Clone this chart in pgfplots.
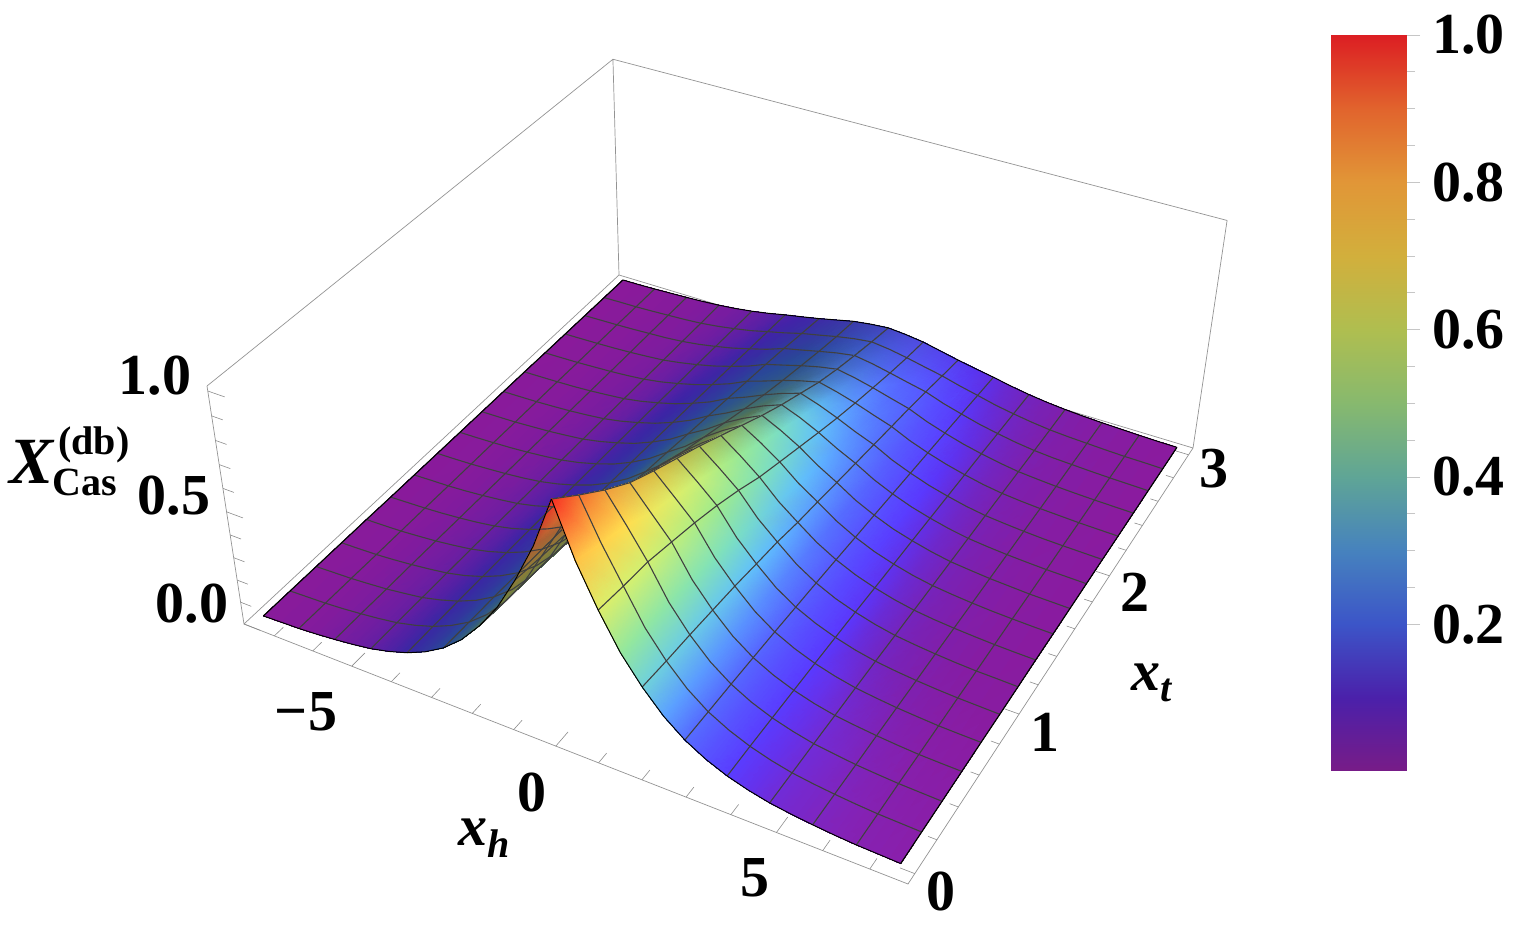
\documentclass[border=0pt]{standalone}
\usepackage{pgfplots}
\pgfplotsset{compat=1.18}
\usepackage{pgfplotstable}
\usepackage{fontspec}
\setmainfont{Liberation Serif}
% projection of (x_h, x_t, X) on the page
\newcommand\U[1]{((#1+7.8)/15.6)}
\newcommand\V[1]{((#1+0.06)/3.12)}
\newcommand\W[1]{(#1/1.02)}
\newcommand\DN[3]{(1-0.11472*\U{#1}+0.21376*\V{#2}-0.073*\W{#3})}
\newcommand\PX[3]{((244+559.83*\U{#1}+507.32*\V{#2}-52.11*\W{#3})/\DN{#1}{#2}{#3})}
\newcommand\PY[3]{(927-(624+158.59*\U{#1}-290.22*\V{#2}-266.18*\W{#3})/\DN{#1}{#2}{#3})}
\newcommand\HH{\thisrow{h}}\newcommand\TT{\thisrow{t}}\newcommand\ZZ{\thisrow{z}}
% heights X read from the surface: one line for each x_h (step 0.46875), x_t from 3 down to 0 (step 0.1875)
% x_h from -7.5 to 0
\pgfplotstableread[row sep=\\]{z\\
0.018\\0.018\\0.018\\0.018\\0.018\\0.019\\0.019\\0.019\\0.019\\0.019\\0.019\\0.019\\0.02\\0.02\\0.02\\0.02\\0.02\\
0.019\\0.02\\0.02\\0.02\\0.02\\0.021\\0.021\\0.021\\0.021\\0.021\\0.022\\0.022\\0.022\\0.022\\0.023\\0.023\\0.023\\
0.021\\0.021\\0.022\\0.022\\0.022\\0.023\\0.023\\0.023\\0.024\\0.024\\0.024\\0.025\\0.025\\0.025\\0.026\\0.026\\0.026\\
0.024\\0.024\\0.025\\0.025\\0.026\\0.026\\0.027\\0.028\\0.028\\0.029\\0.029\\0.03\\0.031\\0.031\\0.032\\0.032\\0.032\\
0.027\\0.028\\0.029\\0.029\\0.03\\0.031\\0.032\\0.033\\0.034\\0.035\\0.036\\0.037\\0.038\\0.039\\0.039\\0.04\\0.04\\
0.031\\0.032\\0.033\\0.035\\0.036\\0.038\\0.039\\0.041\\0.042\\0.043\\0.045\\0.046\\0.048\\0.049\\0.05\\0.05\\0.05\\
0.037\\0.038\\0.04\\0.042\\0.044\\0.046\\0.048\\0.05\\0.052\\0.054\\0.056\\0.058\\0.06\\0.061\\0.062\\0.063\\0.063\\
0.045\\0.048\\0.051\\0.055\\0.057\\0.06\\0.063\\0.066\\0.068\\0.071\\0.074\\0.076\\0.079\\0.08\\0.082\\0.083\\0.083\\
0.056\\0.061\\0.066\\0.071\\0.075\\0.079\\0.083\\0.087\\0.09\\0.094\\0.098\\0.101\\0.104\\0.106\\0.108\\0.11\\0.11\\
0.07\\0.076\\0.083\\0.09\\0.096\\0.101\\0.107\\0.112\\0.117\\0.123\\0.128\\0.133\\0.137\\0.14\\0.143\\0.146\\0.147\\
0.087\\0.096\\0.105\\0.114\\0.122\\0.13\\0.138\\0.146\\0.153\\0.161\\0.168\\0.174\\0.18\\0.185\\0.19\\0.193\\0.197\\
0.102\\0.115\\0.128\\0.141\\0.152\\0.163\\0.175\\0.186\\0.198\\0.209\\0.221\\0.23\\0.24\\0.247\\0.254\\0.259\\0.266\\
0.118\\0.137\\0.157\\0.175\\0.19\\0.206\\0.222\\0.238\\0.255\\0.27\\0.291\\0.305\\0.32\\0.33\\0.34\\0.347\\0.358\\
0.136\\0.154\\0.175\\0.197\\0.217\\0.238\\0.262\\0.286\\0.31\\0.334\\0.365\\0.39\\0.413\\0.43\\0.447\\0.456\\0.47\\
0.154\\0.172\\0.194\\0.22\\0.246\\0.275\\0.308\\0.343\\0.378\\0.414\\0.46\\0.5\\0.533\\0.561\\0.588\\0.6\\0.616\\
0.165\\0.187\\0.212\\0.24\\0.27\\0.308\\0.348\\0.39\\0.435\\0.48\\0.53\\0.575\\0.615\\0.655\\0.71\\0.745\\0.785\\
0.172\\0.197\\0.225\\0.255\\0.29\\0.335\\0.38\\0.43\\0.485\\0.54\\0.595\\0.645\\0.695\\0.75\\0.825\\0.91\\1\\
}\surfleft
% x_h from 0 to 7.5
\pgfplotstableread[row sep=\\]{z\\
0.172\\0.197\\0.225\\0.255\\0.29\\0.335\\0.38\\0.43\\0.485\\0.54\\0.595\\0.645\\0.695\\0.75\\0.825\\0.91\\1\\
0.165\\0.187\\0.212\\0.24\\0.27\\0.308\\0.348\\0.39\\0.435\\0.48\\0.53\\0.575\\0.615\\0.655\\0.71\\0.745\\0.785\\
0.154\\0.172\\0.194\\0.22\\0.246\\0.275\\0.308\\0.343\\0.378\\0.414\\0.46\\0.5\\0.533\\0.561\\0.588\\0.6\\0.616\\
0.136\\0.154\\0.175\\0.197\\0.217\\0.238\\0.262\\0.286\\0.31\\0.334\\0.365\\0.39\\0.413\\0.43\\0.447\\0.456\\0.47\\
0.118\\0.137\\0.157\\0.175\\0.19\\0.206\\0.222\\0.238\\0.255\\0.27\\0.291\\0.305\\0.32\\0.33\\0.34\\0.347\\0.358\\
0.102\\0.115\\0.128\\0.141\\0.152\\0.163\\0.175\\0.186\\0.198\\0.209\\0.221\\0.23\\0.24\\0.247\\0.254\\0.259\\0.266\\
0.087\\0.096\\0.105\\0.114\\0.122\\0.13\\0.138\\0.146\\0.153\\0.161\\0.168\\0.174\\0.18\\0.185\\0.19\\0.193\\0.197\\
0.07\\0.076\\0.083\\0.09\\0.096\\0.101\\0.107\\0.112\\0.117\\0.123\\0.128\\0.133\\0.137\\0.14\\0.143\\0.146\\0.147\\
0.056\\0.061\\0.066\\0.071\\0.075\\0.079\\0.083\\0.087\\0.09\\0.094\\0.098\\0.101\\0.104\\0.106\\0.108\\0.11\\0.11\\
0.045\\0.048\\0.051\\0.055\\0.057\\0.06\\0.063\\0.066\\0.068\\0.071\\0.074\\0.076\\0.079\\0.08\\0.082\\0.083\\0.083\\
0.037\\0.038\\0.04\\0.042\\0.044\\0.046\\0.048\\0.05\\0.052\\0.054\\0.056\\0.058\\0.06\\0.061\\0.062\\0.063\\0.063\\
0.031\\0.032\\0.033\\0.035\\0.036\\0.038\\0.039\\0.041\\0.042\\0.043\\0.045\\0.046\\0.048\\0.049\\0.05\\0.05\\0.05\\
0.027\\0.028\\0.029\\0.029\\0.03\\0.031\\0.032\\0.033\\0.034\\0.035\\0.036\\0.037\\0.038\\0.039\\0.039\\0.04\\0.04\\
0.024\\0.024\\0.025\\0.025\\0.026\\0.026\\0.027\\0.028\\0.028\\0.029\\0.029\\0.03\\0.031\\0.031\\0.032\\0.032\\0.032\\
0.021\\0.021\\0.022\\0.022\\0.022\\0.023\\0.023\\0.023\\0.024\\0.024\\0.024\\0.025\\0.025\\0.025\\0.026\\0.026\\0.026\\
0.019\\0.02\\0.02\\0.02\\0.02\\0.021\\0.021\\0.021\\0.021\\0.021\\0.022\\0.022\\0.022\\0.022\\0.023\\0.023\\0.023\\
0.018\\0.018\\0.018\\0.018\\0.018\\0.019\\0.019\\0.019\\0.019\\0.019\\0.019\\0.019\\0.02\\0.02\\0.02\\0.02\\0.02\\
}\surfright
% shaded colour of each vertex: colour of its height, lit according to the side of the ridge it is on
\newcommand\lookup[2]{\pgfmathparse{{#1}[\vi]+({#1}[\vi+1]-{#1}[\vi])*\vf}\let#2\pgfmathresult}
\newcommand\vertexcolor[3]{%
  \getthisrow{h}\vh\getthisrow{t}\vt\getthisrow{z}\vz
  \pgfmathsetmacro\vq{10*\vz}\pgfmathtruncatemacro\vi{\vq}\pgfmathsetmacro\vf{\vq-\vi}%
  \pgfmathsetmacro\varg{min(4,abs(\vh)/(0.25+0.7*\vt))}%
  \pgfmathsetmacro\vad{10*\vz*tanh(\varg)}%
  \pgfmathsetmacro\vab{min(1,\vad+max(0,0.8-0.8*\vt))}%
  \pgfmathsetmacro\vad{min(1,\vad)}%
  \pgfmathsetmacro\vwb{\vh>=0?\vab:0}%
  \pgfmathsetmacro\vwd{\vh<0?\vad:0}%
  \lookup{#1}\lN\lookup{#2}\lB\lookup{#3}\lD
  \pgfmathsetmacro\vres{(\lN*(1-\vwb-\vwd)+\lB*\vwb+\lD*\vwd)/255}%
  \pgfkeyslet{/pgfplots/table/create col/next content}\vres}
\newcommand\prep[2]{%
\pgfplotstablecreatecol[create col/assign/.code={\edef\vres{\the\numexpr(\pgfplotstablerow-8)/17\relax}\pgfkeyslet{/pgfplots/table/create col/next content}\vres}]{ci}#1%
\pgfplotstablecreatecol[create col/assign/.code={\getthisrow{ci}\vci\edef\vres{\the\numexpr\pgfplotstablerow-17*\vci\relax}\pgfkeyslet{/pgfplots/table/create col/next content}\vres}]{cj}#1%
\pgfplotstablecreatecol[create col/assign/.code={\getthisrow{ci}\vci\ifodd\vci\relax\def\vres{1}\else\def\vres{0}\fi\pgfkeyslet{/pgfplots/table/create col/next content}\vres}]{ev}#1%
\pgfplotstablecreatecol[create col/assign/.code={\getthisrow{ci}\vci\pgfmathsetmacro\vres{#2+0.46875*\vci}\pgfkeyslet{/pgfplots/table/create col/next content}\vres}]{h}#1%
\pgfplotstablecreatecol[create col/assign/.code={\getthisrow{cj}\vcj\pgfmathsetmacro\vres{3-0.1875*\vcj}\pgfkeyslet{/pgfplots/table/create col/next content}\vres}]{t}#1%
\pgfplotstablecreatecol[create col/assign/.code={\getthisrow{h}\vh\getthisrow{t}\vt\getthisrow{z}\vz\pgfmathsetmacro\vres{\PX{\vh}{\vt}{\vz}}\pgfkeyslet{/pgfplots/table/create col/next content}\vres}]{px}#1%
\pgfplotstablecreatecol[create col/assign/.code={\getthisrow{h}\vh\getthisrow{t}\vt\getthisrow{z}\vz\pgfmathsetmacro\vres{\PY{\vh}{\vt}{\vz}}\pgfkeyslet{/pgfplots/table/create col/next content}\vres}]{py}#1%
\pgfplotstablecreatecol[create col/assign/.code={\vertexcolor{150,88,60,70,95,135,175,210,225,225,220,220}{150,90,85,95,125,160,215,255,255,255,255,255}{150,60,40,60,90,120,140,160,175,185,190,190}}]{cr}#1%
\pgfplotstablecreatecol[create col/assign/.code={\vertexcolor{25,32,85,130,165,185,190,175,150,100,30,30}{25,55,110,190,225,235,240,225,190,130,50,50}{25,35,75,105,120,130,125,110,90,70,50,50}}]{cg}#1%
\pgfplotstablecreatecol[create col/assign/.code={\vertexcolor{150,180,200,190,150,110,80,60,55,45,35,35}{150,255,255,255,190,140,110,80,70,50,35,35}{150,165,150,110,80,60,55,55,50,40,35,35}}]{cb}#1}
\prep\surfleft{-7.5}
\prep\surfright{0}
\tikzset{lab/.style={font=\fontsize{58}{60}\selectfont\bfseries,inner sep=0pt},
  labs/.style={font=\fontsize{40}{42}\selectfont\bfseries,inner sep=0pt}}
\pgfplotsset{meshline/.style={black!75,line width=1.1pt,no markers,forget plot},
  halfsurf/.style={surf,shader=interp,mesh/rows=17,mesh/cols=17,mesh/ordering=y varies,forget plot,
    mesh/color input=explicit mathparse,point meta={symbolic={\thisrow{cr},\thisrow{cg},\thisrow{cb}}}},
  edgeline/.style={black,line width=1pt,no markers,forget plot}}
\begin{document}
\begin{tikzpicture}
\useasboundingbox (0,0) rectangle (1517pt,927pt);
\begin{axis}[at={(0pt,0pt)},anchor=south west,scale only axis,width=1517pt,height=927pt,
  xmin=0,xmax=1517,ymin=0,ymax=927,hide axis,clip=false,unbounded coords=jump]
% box
\addplot[gray!85,line width=0.7pt,no markers,forget plot] table[x expr=\PX{\HH}{\TT}{\ZZ},y expr=\PY{\HH}{\TT}{\ZZ}] {
h t z
-7.8 -0.06 1.02
-7.8 3.06 1.02
7.8 3.06 1.02
7.8 3.06 0
-7.8 3.06 0
-7.8 3.06 1.02
nan 0 0
-7.8 -0.06 1.02
-7.8 -0.06 0
7.8 -0.06 0
7.8 3.06 0
nan 0 0
-7.8 -0.06 0
-7.8 3.06 0
};
% ticks
\addplot[gray!90,line width=0.6pt,no markers,forget plot] table[x expr=\PX{\HH}{\TT}{\ZZ},y expr=\PY{\HH}{\TT}{\ZZ}] {
h t z
-7 -0.06 0
-7 0.0024 0
nan 0 0
-6 -0.06 0
-6 0.0024 0
nan 0 0
-5 -0.06 0
-5 0.0336 0
nan 0 0
-4 -0.06 0
-4 0.0024 0
nan 0 0
-3 -0.06 0
-3 0.0024 0
nan 0 0
-2 -0.06 0
-2 0.0024 0
nan 0 0
-1 -0.06 0
-1 0.0024 0
nan 0 0
0 -0.06 0
0 0.0336 0
nan 0 0
1 -0.06 0
1 0.0024 0
nan 0 0
2 -0.06 0
2 0.0024 0
nan 0 0
3 -0.06 0
3 0.0024 0
nan 0 0
4 -0.06 0
4 0.0024 0
nan 0 0
5 -0.06 0
5 0.0336 0
nan 0 0
6 -0.06 0
6 0.0024 0
nan 0 0
7 -0.06 0
7 0.0024 0
nan 0 0
7.8 0 0
7.488 0 0
nan 0 0
7.8 0.2 0
7.613 0.2 0
nan 0 0
7.8 0.4 0
7.613 0.4 0
nan 0 0
7.8 0.6 0
7.613 0.6 0
nan 0 0
7.8 0.8 0
7.613 0.8 0
nan 0 0
7.8 1 0
7.488 1 0
nan 0 0
7.8 1.2 0
7.613 1.2 0
nan 0 0
7.8 1.4 0
7.613 1.4 0
nan 0 0
7.8 1.6 0
7.613 1.6 0
nan 0 0
7.8 1.8 0
7.613 1.8 0
nan 0 0
7.8 2 0
7.488 2 0
nan 0 0
7.8 2.2 0
7.613 2.2 0
nan 0 0
7.8 2.4 0
7.613 2.4 0
nan 0 0
7.8 2.6 0
7.613 2.6 0
nan 0 0
7.8 2.8 0
7.613 2.8 0
nan 0 0
7.8 3 0
7.488 3 0
nan 0 0
-7.8 -0.06 0
-7.38 -0.06 0
nan 0 0
-7.8 -0.06 0.1
-7.52 -0.06 0.1
nan 0 0
-7.8 -0.06 0.2
-7.52 -0.06 0.2
nan 0 0
-7.8 -0.06 0.3
-7.52 -0.06 0.3
nan 0 0
-7.8 -0.06 0.4
-7.52 -0.06 0.4
nan 0 0
-7.8 -0.06 0.5
-7.38 -0.06 0.5
nan 0 0
-7.8 -0.06 0.6
-7.52 -0.06 0.6
nan 0 0
-7.8 -0.06 0.7
-7.52 -0.06 0.7
nan 0 0
-7.8 -0.06 0.8
-7.52 -0.06 0.8
nan 0 0
-7.8 -0.06 0.9
-7.52 -0.06 0.9
nan 0 0
-7.8 -0.06 1
-7.38 -0.06 1
};
% surface, x_h <= 0
\addplot[halfsurf] table[x=px,y=py] {\surfleft};
\addplot[meshline,unbounded coords=jump] table[x expr={\thisrow{ev}==0?\thisrow{px}:nan},y=py] {\surfleft};
\pgfplotsinvokeforeach{1,...,15}{
\addplot[meshline,unbounded coords=discard] table[x expr={\thisrow{cj}==#1?\thisrow{px}:nan},y=py] {\surfleft};
}
% surface, x_h >= 0
\addplot[halfsurf] table[x=px,y=py] {\surfright};
\addplot[meshline,unbounded coords=jump] table[x expr={\thisrow{ev}==0?\thisrow{px}:nan},y=py] {\surfright};
\pgfplotsinvokeforeach{1,...,15}{
\addplot[meshline,unbounded coords=discard] table[x expr={\thisrow{cj}==#1?\thisrow{px}:nan},y=py] {\surfright};
}
% edges of the surface
\addplot[edgeline,unbounded coords=discard] table[x expr={\thisrow{cj}==16?\thisrow{px}:nan},y=py] {\surfleft};
\addplot[edgeline,unbounded coords=discard] table[x expr={\thisrow{cj}==0?\thisrow{px}:nan},y=py] {\surfleft};
\addplot[edgeline,unbounded coords=discard] table[x expr={\thisrow{cj}==16?\thisrow{px}:nan},y=py] {\surfright};
\addplot[edgeline,unbounded coords=discard] table[x expr={\thisrow{cj}==0?\thisrow{px}:nan},y=py] {\surfright};
\addplot[edgeline,unbounded coords=jump] table[x expr={\thisrow{ci}==0?\thisrow{px}:nan},y=py] {\surfleft};
\addplot[edgeline,unbounded coords=jump] table[x expr={\thisrow{ci}==16?\thisrow{px}:nan},y=py] {\surfright};
% labels
\node[lab] at (axis cs:155,551) {1.0};
\node[lab] at (axis cs:174,431) {0.5};
\node[lab] at (axis cs:192,323) {0.0};
\node[lab] at (axis cs:306,215) {\char"2212 5};
\node[lab] at (axis cs:532,135) {0};
\node[lab] at (axis cs:755,49) {5};
\node[lab] at (axis cs:941,36) {0};
\node[lab] at (axis cs:1045,195) {1};
\node[lab] at (axis cs:1135,335) {2};
\node[lab] at (axis cs:1214,458) {3};
\node[lab] at (axis cs:484,89) {\itshape x\raisebox{-0.2em}{\fontsize{40}{42}\selectfont h}};
\node[lab] at (axis cs:1152,244) {\itshape x\raisebox{-0.2em}{\fontsize{40}{42}\selectfont t}};
\node[lab,font=\fontsize{66}{68}\selectfont\bfseries] at (axis cs:32,465) {\itshape X};
\node[labs] at (axis cs:94,482) {(db)};
\node[labs] at (axis cs:85,445) {Cas};
\end{axis}
% colour bar
\begin{axis}[at={(1331pt,157pt)},anchor=south west,scale only axis,width=75pt,height=735pt,
  xmin=0,xmax=1,ymin=0.002,ymax=1,axis y line*=right,axis x line=none,
  ytick={0.2,0.4,0.6,0.8,1},minor y tick num=3,tick align=outside,
  major tick length=14pt,minor tick length=9pt,
  tick style={gray!45,line width=0.7pt},axis line style={gray!80,line width=0.8pt},
  /pgf/number format/fixed,/pgf/number format/fixed zerofill,/pgf/number format/precision=1,
  /pgf/number format/assume math mode=true,
  yticklabel style={font=\fontsize{58}{60}\selectfont\bfseries,inner sep=0pt,anchor=west,xshift=12pt},
  colormap={bar}{rgb255=(120,28,135);rgb255=(75,32,170);rgb255=(60,85,200);rgb255=(70,130,190);rgb255=(95,165,150);rgb255=(135,185,110);rgb255=(175,190,80);rgb255=(210,175,60);rgb255=(225,150,55);rgb255=(225,100,45);rgb255=(220,30,35)},
  point meta min=0,point meta max=1]
\addplot[surf,shader=interp,mesh/cols=2,point meta=y] table[row sep=\\] {
x y\\ 0 0.002\\ 1 0.002\\ 0 0.1\\ 1 0.1\\ 0 0.2\\ 1 0.2\\ 0 0.3\\ 1 0.3\\ 0 0.4\\ 1 0.4\\ 0 0.5\\ 1 0.5\\
0 0.6\\ 1 0.6\\ 0 0.7\\ 1 0.7\\ 0 0.8\\ 1 0.8\\ 0 0.9\\ 1 0.9\\ 0 1\\ 1 1\\
};
\end{axis}
\end{tikzpicture}
\end{document}
